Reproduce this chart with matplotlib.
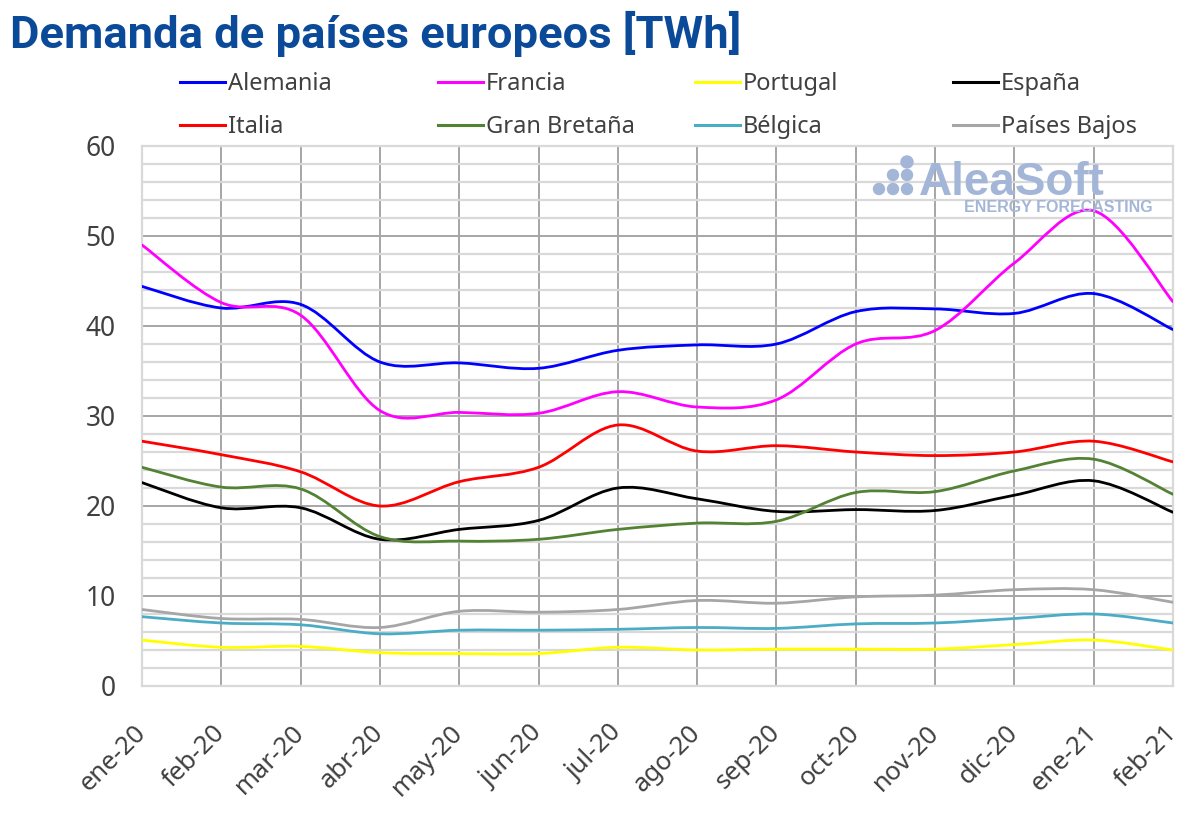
import matplotlib
matplotlib.use("Agg")
import matplotlib.pyplot as plt
from matplotlib.path import Path
from matplotlib.patches import PathPatch, Ellipse
from matplotlib.lines import Line2D
from matplotlib.transforms import ScaledTranslation
import numpy as np

meses = ["ene-20", "feb-20", "mar-20", "abr-20", "may-20", "jun-20", "jul-20",
         "ago-20", "sep-20", "oct-20", "nov-20", "dic-20", "ene-21", "feb-21"]

alemania = [44.4, 42.0, 42.4, 36.0, 35.9, 35.3, 37.3, 37.9, 38.0, 41.6, 41.9, 41.4, 43.6, 39.6]
francia = [49.0, 42.6, 41.2, 30.6, 30.4, 30.3, 32.7, 31.0, 31.8, 38.0, 39.5, 47.0, 52.8, 42.7]
portugal = [5.1, 4.3, 4.4, 3.7, 3.6, 3.6, 4.3, 4.0, 4.1, 4.1, 4.1, 4.6, 5.1, 4.0]
espana = [22.6, 19.8, 19.8, 16.3, 17.4, 18.4, 22.0, 20.8, 19.4, 19.6, 19.5, 21.2, 22.8, 19.3]
italia = [27.2, 25.7, 23.8, 20.0, 22.7, 24.3, 29.0, 26.1, 26.7, 26.0, 25.6, 26.0, 27.2, 24.9]
gran_bretana = [24.3, 22.1, 21.9, 16.6, 16.1, 16.3, 17.4, 18.1, 18.3, 21.5, 21.6, 23.9, 25.2, 21.3]
belgica = [7.7, 7.0, 6.8, 5.8, 6.2, 6.2, 6.3, 6.5, 6.4, 6.9, 7.0, 7.5, 8.0, 7.0]
paises_bajos = [8.5, 7.5, 7.4, 6.5, 8.3, 8.2, 8.5, 9.5, 9.2, 9.9, 10.1, 10.7, 10.7, 9.3]

series = [
    ("Alemania", alemania, "#0000FF"),
    ("Francia", francia, "#FF00FF"),
    ("Portugal", portugal, "#FFFF00"),
    ("España", espana, "#000000"),
    ("Italia", italia, "#FF0000"),
    ("Gran Bretaña", gran_bretana, "#548235"),
    ("Bélgica", belgica, "#4BACC6"),
    ("Países Bajos", paises_bajos, "#A6A6A6"),
]

TXT = "#404040"
plt.rcParams["font.family"] = ["Noto Sans", "DejaVu Sans"]


def curva_suave(x, y):
    # bezier tipo Excel (catmull-rom)
    pts = np.column_stack([x, y]).astype(float)
    n = len(pts)
    verts = [pts[0]]
    codes = [Path.MOVETO]
    for i in range(n - 1):
        p0 = pts[i - 1] if i > 0 else pts[i]
        p1 = pts[i]
        p2 = pts[i + 1]
        p3 = pts[i + 2] if i + 2 < n else pts[i + 1]
        c1 = p1 + (p2 - p0) / 6.0
        c2 = p2 - (p3 - p1) / 6.0
        verts += [c1, c2, p2]
        codes += [Path.CURVE4] * 3
    return Path(verts, codes)


fig = plt.figure(figsize=(12, 8.31), dpi=100)
ax = fig.add_axes([142 / 1200, 1 - 686 / 831, 1031 / 1200, 540 / 831])

x = np.arange(len(meses))
for nombre, vals, col in series:
    ax.add_patch(PathPatch(curva_suave(x, vals), facecolor="none", edgecolor=col,
                           lw=2.0, zorder=3, capstyle="round"))

ax.set_xlim(0, len(meses) - 1)
ax.set_ylim(0, 60)
ax.set_xticks(x)
ax.set_xticklabels(meses, rotation=45, ha="right", va="center", rotation_mode="anchor",
                   fontsize=18.5, color=TXT)
desplaza = ScaledTranslation(5 / 100, 4 / 100, fig.dpi_scale_trans)
for lab in ax.get_xticklabels():
    lab.set_transform(lab.get_transform() + desplaza)
ax.set_yticks(range(0, 61, 10))
ax.set_yticks(range(0, 61, 2), minor=True)
ax.tick_params(axis="y", which="major", labelsize=19, labelcolor=TXT, length=0, pad=19)
ax.tick_params(axis="y", which="minor", length=0)
ax.tick_params(axis="x", length=0, pad=31)

ax.set_axisbelow(True)
ax.grid(axis="y", which="minor", color="#D9D9D9", lw=1.6)
ax.grid(axis="y", which="major", color="#A6A6A6", lw=1.4)
ax.grid(axis="x", which="major", color="#A6A6A6", lw=1.4)
for gl in (ax.get_xgridlines()[0], ax.get_xgridlines()[-1],
           ax.get_ygridlines()[0], ax.get_ygridlines()[-1]):
    gl.set_visible(False)
for s in ax.spines.values():
    s.set_color("#D9D9D9")
    s.set_linewidth(1.6)

# titulo
fig.text(10 / 1200, 1 - 48 / 831, "Demanda de países europeos [TWh]",
         fontsize=32.7, fontweight="bold", color="#0B4A99", family="Roboto",
         va="baseline", ha="left")

# leyenda en 4 columnas
col_x = [180, 438, 695, 953]
for c in range(4):
    hs = []
    for r in range(2):
        nombre, vals, col = series[r * 4 + c]
        hs.append(Line2D([], [], color=col, lw=2.2, label=nombre))
    fig.legend(handles=hs, loc="upper left", bbox_to_anchor=(col_x[c] / 1200, 1 - 72 / 831),
               frameon=False, fontsize=17, labelcolor=TXT, handlelength=1.9,
               handletextpad=0.12, labelspacing=0.8, borderpad=0, borderaxespad=0)

# logo
logo = "#A4B6D8"
fig.text(919 / 1200, 1 - 195 / 831, "AleaSoft", fontsize=33, fontweight="bold",
         color=logo, va="baseline", ha="left", family="Liberation Sans")
fig.text(1153 / 1200, 1 - 212 / 831, "ENERGY FORECASTING", fontsize=11.5,
         fontweight="bold", color=logo, va="baseline", ha="right", family="Liberation Sans")
puntos = [(879, 189, 5.5), (893, 175, 5.5), (893, 189, 5.5), (907, 162, 6), (907, 175, 5.5), (907, 189, 5.5)]
for px, py, r in puntos:
    fig.add_artist(Ellipse((px / 1200, 1 - py / 831), 2 * r / 1200, 2 * r / 831,
                           color=logo, zorder=1))

fig.savefig("out.png", dpi=100)
